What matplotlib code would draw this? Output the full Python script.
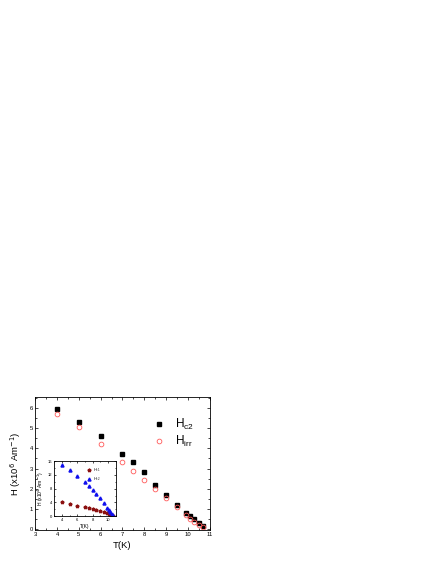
import matplotlib
matplotlib.use("Agg")

import matplotlib.pyplot as plt
from matplotlib.ticker import MultipleLocator

plt.rcParams["font.family"] = ["Liberation Sans", "DejaVu Sans"]

# main panel: upper critical field and irreversibility field
temp = [4, 5, 6, 7, 7.5, 8, 8.5, 9, 9.5, 9.9, 10.1, 10.3, 10.5, 10.7]
h_c2 = [5.97, 5.29, 4.62, 3.71, 3.34, 2.84, 2.19, 1.71, 1.18, 0.81, 0.66, 0.48, 0.30, 0.13]
h_irr = [5.70, 5.06, 4.22, 3.33, 2.86, 2.41, 1.96, 1.53, 1.10, 0.71, 0.51, 0.36, 0.19, 0.09]

# inset: lower and upper critical fields (x10^4 A/m)
inset_hc1 = [4.05, 3.56, 3.08, 2.6, 2.4, 2.1, 1.82, 1.44, 1.15, 0.87, 0.65, 0.45, 0.25, 0.08]
inset_hc2 = [14.9, 13.5, 11.8, 9.9, 8.9, 7.7, 6.5, 5.2, 3.8, 2.4, 1.7, 1.1, 0.6, 0.15]


def style_axes(ax, xmaj, xmin, ymaj, ymin, size, length):
    """Origin-like ticks: inward on all four sides."""
    ax.xaxis.set_major_locator(MultipleLocator(xmaj))
    ax.xaxis.set_minor_locator(MultipleLocator(xmin))
    ax.yaxis.set_major_locator(MultipleLocator(ymaj))
    ax.yaxis.set_minor_locator(MultipleLocator(ymin))
    ax.tick_params(which="both", direction="in", top=True, right=True,
                   labelsize=size, width=0.5, pad=1.5)
    ax.tick_params(which="major", length=length)
    ax.tick_params(which="minor", length=length * 0.55)
    for sp in ax.spines.values():
        sp.set_linewidth(0.6)


fig = plt.figure(figsize=(4.36, 5.64), dpi=100)

ax = fig.add_axes([0.081, 0.0603, 0.3998, 0.2358])
ax.plot(temp, h_c2, "s", color="black", ms=3.0, label=r"H$_\mathregular{c2}$")
ax.plot(temp, h_irr, "o", mfc="none", mec="#ff5a5a", mew=0.6, ms=3.4,
        label=r"H$_\mathregular{irr}$")
ax.set_xlim(3, 11)
ax.set_ylim(-0.05, 6.55)
style_axes(ax, 1, 0.5, 1, 0.5, 4.2, 2.2)
ax.set_xlabel("T(K)", fontsize=6.8, labelpad=3)
ax.set_ylabel("H (x10$^6$ Am$^{-1}$)", fontsize=6.8, labelpad=5)

ax.legend(loc="upper left", bbox_to_anchor=(0.65, 0.895), frameon=False,
          fontsize=8.5, handlelength=0.8, handletextpad=0.9,
          labelspacing=0.15, borderpad=0)

# inset
axi = fig.add_axes([0.1245, 0.0846, 0.1408, 0.098])
axi.plot(temp, inset_hc1, "*", color="#8b1010", ms=2.6, label=r"H$_\mathregular{c1}$")
axi.plot(temp, inset_hc2, "^", color="#1010ee", ms=2.2, label=r"H$_\mathregular{c2}$")
axi.set_xlim(3, 11)
axi.set_ylim(0, 16)
style_axes(axi, 2, 1, 4, 2, 3.0, 1.5)
axi.set_xlabel("T(K)", fontsize=3.6, labelpad=1)
axi.set_ylabel("H (x10$^4$ Am$^{-1}$)", fontsize=3.6, labelpad=1)
axi.legend(loc="upper right", bbox_to_anchor=(0.78, 0.93), frameon=False,
           fontsize=2.8, handlelength=0.8, handletextpad=0.6,
           labelspacing=0.3, borderpad=0, markerscale=1.0)

fig.savefig("out.png", dpi=100)
